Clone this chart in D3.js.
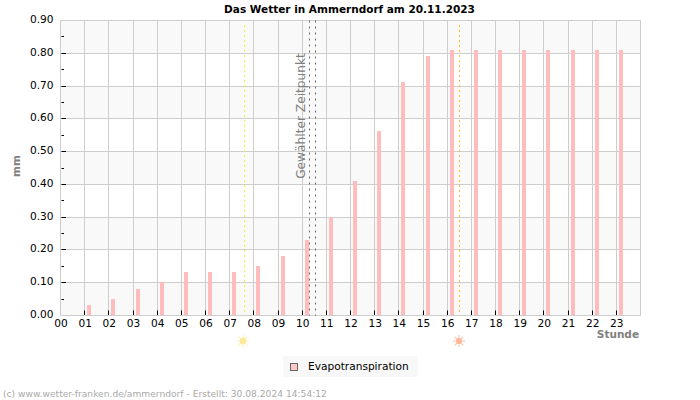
<!DOCTYPE html>
<html>
<head>
<style>
  body { margin: 0; background: #fff; }
  text { font-family: "DejaVu Sans", sans-serif; }
</style>
<script src="https://d3js.org/d3.v7.min.js"></script>
</head>
<body>
<svg width="700" height="400"></svg>
<script>
const hours = d3.range(0, 24);
const hourLabels = hours.map(d => String(d).padStart(2, "0"));
const evapo = [0, 0.03, 0.05, 0.08, 0.10, 0.13, 0.13, 0.13, 0.15, 0.18, 0.23, 0.30, 0.41, 0.56, 0.71, 0.79, 0.81, 0.81, 0.81, 0.81, 0.81, 0.81, 0.81, 0.81];
const yTicks = [0, 0.1, 0.2, 0.3, 0.4, 0.5, 0.6, 0.7, 0.8, 0.9];
const yMinor = [0.05, 0.15, 0.25, 0.35, 0.45, 0.55, 0.65, 0.75, 0.85];
const sunrise = 7.6, sunset = 16.53;
const selected = [10.3, 10.55];

const left = 60.5, right = 640.5, top_ = 20.5, bottom = 315.5;
const svg = d3.select("svg");
const x = d3.scaleLinear().domain([0, 24]).range([left, right]);
const y = d3.scaleLinear().domain([0, 0.9]).range([bottom, top_]);
// pixel snapped versions so lines stay crisp
const px = d => Math.floor(x(d)) + 0.5;
const py = d => Math.floor(y(d)) + 0.5;
const barTop = d => Math.floor(y(d) + 0.01);

// plot background, every second band grey
svg.selectAll("rect.band")
  .data(yTicks.slice(0, -1).filter((d, i) => i % 2 === 0))
  .enter().append("rect")
  .attr("class", "band")
  .attr("x", left)
  .attr("y", d => py(d + 0.1))
  .attr("width", right - left)
  .attr("height", d => py(d) - py(d + 0.1))
  .attr("fill", "#f9f9f9");

// grid
svg.selectAll("line.hgrid")
  .data(yTicks)
  .enter().append("line")
  .attr("x1", left).attr("x2", right)
  .attr("y1", d => py(d)).attr("y2", d => py(d))
  .attr("stroke", "#cdcdcd");

svg.selectAll("line.vgrid")
  .data(hours.concat([24]))
  .enter().append("line")
  .attr("x1", d => px(d)).attr("x2", d => px(d))
  .attr("y1", top_).attr("y2", bottom)
  .attr("stroke", "#cdcdcd");

// bars
svg.selectAll("rect.bar")
  .data(evapo)
  .enter().append("rect")
  .attr("class", "bar")
  .attr("x", (d, i) => Math.floor(x(i)) + 3)
  .attr("y", d => barTop(d))
  .attr("width", 4)
  .attr("height", d => Math.floor(bottom) - barTop(d))
  .attr("fill", "#ffbcbc");

// sun lines and selected time
svg.append("line")
  .attr("x1", px(sunrise)).attr("x2", px(sunrise))
  .attr("y1", 25).attr("y2", bottom)
  .attr("stroke", "#f8f040").attr("stroke-dasharray", "2 3");
svg.append("line")
  .attr("x1", px(sunset)).attr("x2", px(sunset))
  .attr("y1", 25).attr("y2", bottom)
  .attr("stroke", "#ffb833").attr("stroke-dasharray", "2 3");
svg.selectAll("line.sel")
  .data(selected)
  .enter().append("line")
  .attr("class", "sel")
  .attr("x1", d => px(d)).attr("x2", d => px(d))
  .attr("y1", top_).attr("y2", bottom)
  .attr("stroke", "#666").attr("stroke-dasharray", "2 4");

// ticks
svg.selectAll("line.xt")
  .data(hours.slice(1))
  .enter().append("line")
  .attr("x1", d => px(d)).attr("x2", d => px(d))
  .attr("y1", bottom - 5).attr("y2", bottom - 0.5)
  .attr("stroke", "#000");
svg.selectAll("line.yt")
  .data(yTicks.slice(1, -1))
  .enter().append("line")
  .attr("x1", left + 1).attr("x2", left + 5.5)
  .attr("y1", d => py(d)).attr("y2", d => py(d))
  .attr("stroke", "#000");
svg.selectAll("line.ym")
  .data(yMinor)
  .enter().append("line")
  .attr("x1", left + 1).attr("x2", left + 3.5)
  .attr("y1", d => py(d)).attr("y2", d => py(d))
  .attr("stroke", "#000");

// tick labels
svg.selectAll("text.yl")
  .data(yTicks)
  .enter().append("text")
  .attr("x", 53.5).attr("y", d => py(d) + 2.5)
  .attr("text-anchor", "end")
  .style("font-size", "10.6px").attr("fill", "#000")
  .text(d => d.toFixed(2));
svg.selectAll("text.xl")
  .data(hourLabels)
  .enter().append("text")
  .attr("x", (d, i) => x(i) + 0.5).attr("y", 327)
  .attr("text-anchor", "middle")
  .style("font-size", "10.6px").attr("fill", "#000")
  .text(d => d);

// axis titles
svg.append("text")
  .attr("x", 349.5).attr("y", 13)
  .attr("text-anchor", "middle")
  .style("font-size", "10.5px").style("font-weight", "bold")
  .text("Das Wetter in Ammerndorf am 20.11.2023");
svg.append("text")
  .attr("transform", "translate(19.5,166) rotate(-90)")
  .attr("text-anchor", "middle")
  .style("font-size", "10.5px").style("font-weight", "bold").attr("fill", "#808080")
  .text("mm");
svg.append("text")
  .attr("x", 639).attr("y", 338)
  .attr("text-anchor", "end")
  .style("font-size", "10.5px").style("font-weight", "bold").attr("fill", "#808080")
  .text("Stunde");
svg.append("text")
  .attr("transform", "translate(305,116) rotate(-90)")
  .attr("text-anchor", "middle")
  .style("font-size", "12.2px").attr("fill", "#808080")
  .text("Gewählter Zeitpunkt");

// sun icons under the axis
function sun(cx, cy, fill, ray) {
  const g = svg.append("g").attr("transform", `translate(${cx},${cy})`);
  g.selectAll("line")
    .data(d3.range(0, 360, 45))
    .enter().append("line")
    .attr("x1", 3.5).attr("x2", 6)
    .attr("transform", d => `rotate(${d})`)
    .attr("stroke", ray).attr("stroke-width", 1.2);
  g.append("circle").attr("r", 3.2).attr("fill", fill);
}
sun(243, 341, "#fde79a", "#fdeeb4");
sun(459, 341, "#ffb899", "#ffcdb8");

// legend
svg.append("rect")
  .attr("x", 283).attr("y", 356).attr("width", 135).attr("height", 21)
  .attr("fill", "#f8f8f8");
svg.append("rect")
  .attr("x", 290.5).attr("y", 363.5).attr("width", 7).attr("height", 7)
  .attr("fill", "#ffc8c8").attr("stroke", "#666");
svg.append("text")
  .attr("x", 308).attr("y", 370)
  .style("font-size", "10.6px").attr("fill", "#000")
  .text("Evapotranspiration");

// footer
svg.append("text")
  .attr("x", 3).attr("y", 397)
  .style("font-size", "9.15px").attr("fill", "#aaa")
  .text("(c) www.wetter-franken.de/ammerndorf - Erstellt: 30.08.2024 14:54:12");
</script>
</body>
</html>
